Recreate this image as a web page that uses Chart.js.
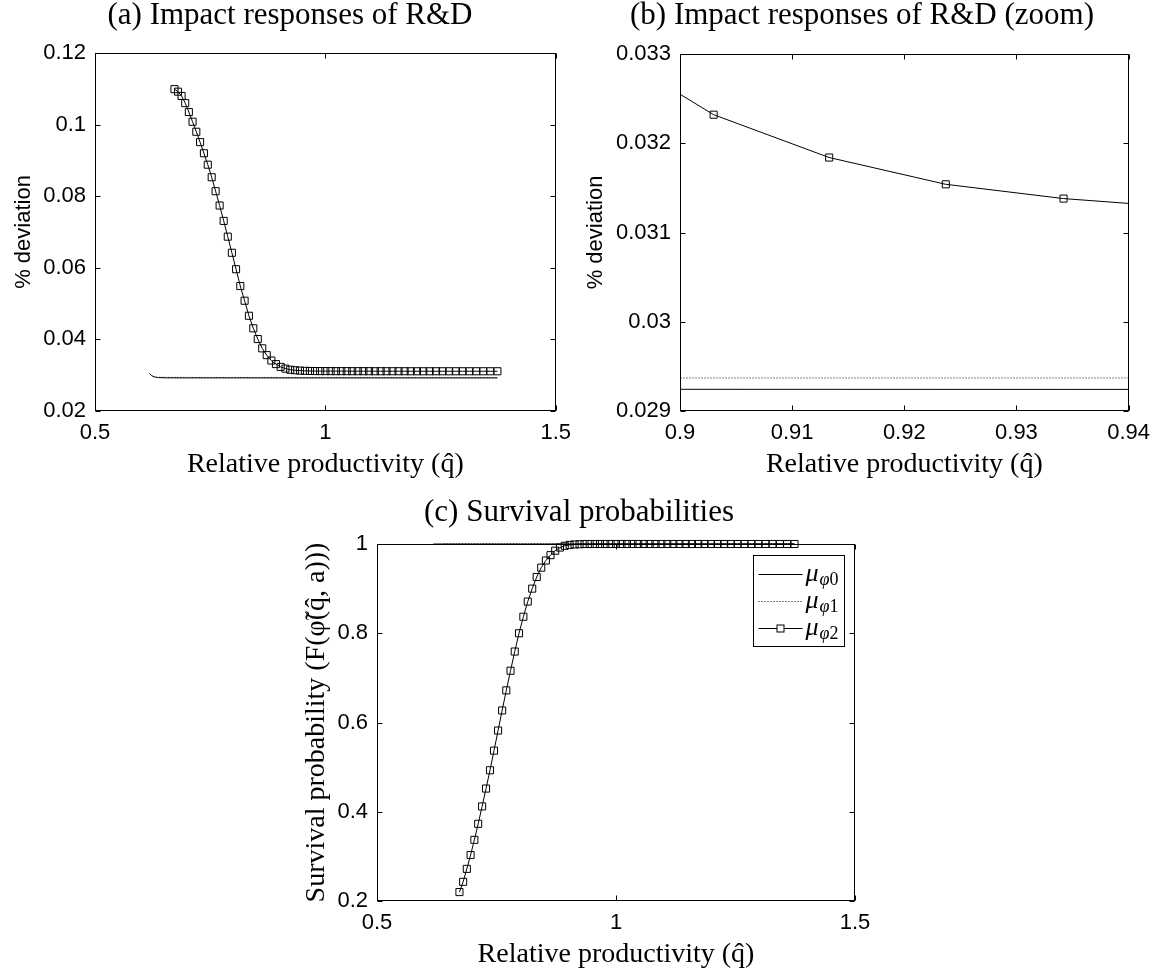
<!DOCTYPE html>
<html>
<head>
<meta charset="utf-8">
<script src="https://cdn.jsdelivr.net/npm/chart.js@4.4.1/dist/chart.umd.min.js"></script>
<style>
  body { margin: 0; background: #fff; }
  #wrap { position: relative; width: 1159px; height: 969px; overflow: hidden; }
  canvas { position: absolute; }
</style>
</head>
<body>
<div id="wrap">
  <canvas id="panelA" width="580" height="485" style="left:0;top:0"></canvas>
  <canvas id="panelB" width="579" height="485" style="left:580px;top:0"></canvas>
  <canvas id="panelC" width="659" height="489" style="left:250px;top:480px"></canvas>
</div>
<script>
// relative productivity grid for the marker series (mu_phi2)
const qGrid = [0.6725, 0.6802, 0.6879, 0.6958, 0.7037, 0.7117, 0.7199, 0.7281, 0.7364, 0.7448,
  0.7533, 0.7618, 0.7705, 0.7793, 0.7882, 0.7971, 0.8062, 0.8154, 0.8247, 0.8341,
  0.8436, 0.8533, 0.8630, 0.8728, 0.8828, 0.8928, 0.9030, 0.9133, 0.9237, 0.9342,
  0.9449, 0.9557, 0.9665, 0.9775, 0.9887, 1.0000, 1.0114, 1.0229, 1.0346, 1.0464,
  1.0583, 1.0704, 1.0826, 1.0949, 1.1074, 1.1200, 1.1328, 1.1457, 1.1588, 1.1720,
  1.1853, 1.1988, 1.2125, 1.2263, 1.2403, 1.2544, 1.2687, 1.2832, 1.2978, 1.3126,
  1.3276, 1.3427, 1.3580, 1.3735];

// R&D impact response, mu_phi2 (% deviation)
const rdPhi2 = [0.1099, 0.1092, 0.1080, 0.1060, 0.1035, 0.1008, 0.0980, 0.0951, 0.0920, 0.0888,
  0.0853, 0.0814, 0.0774, 0.0731, 0.0687, 0.0642, 0.0596, 0.0549, 0.0508, 0.0466,
  0.0431, 0.0401, 0.0375, 0.0356, 0.0341, 0.0331, 0.03232, 0.03184, 0.03154, 0.03138,
  0.03128, 0.03122, 0.03118, 0.03116, 0.03115, 0.03114, 0.03114, 0.03113, 0.03113, 0.03113,
  0.03112, 0.03112, 0.03112, 0.03112, 0.03111, 0.03111, 0.03111, 0.03111, 0.03111, 0.03111,
  0.03110, 0.03110, 0.03110, 0.03110, 0.03110, 0.03110, 0.03110, 0.03110, 0.03110, 0.03110,
  0.03110, 0.03110, 0.03110, 0.03110];

// survival probability, mu_phi2
const survPhi2 = [0.220, 0.243, 0.272, 0.303, 0.337, 0.373, 0.412, 0.452, 0.493, 0.537,
  0.582, 0.627, 0.672, 0.716, 0.759, 0.800, 0.837, 0.871, 0.900, 0.926,
  0.947, 0.963, 0.975, 0.985, 0.992, 0.996, 0.998, 0.999, 0.9995, 1.000,
  1.000, 1.000, 1.000, 1.000, 1.000, 1.000, 1.000, 1.000, 1.000, 1.000,
  1.000, 1.000, 1.000, 1.000, 1.000, 1.000, 1.000, 1.000, 1.000, 1.000,
  1.000, 1.000, 1.000, 1.000, 1.000, 1.000, 1.000, 1.000, 1.000, 1.000,
  1.000, 1.000, 1.000, 1.000];

// mu_phi0 (solid) and mu_phi1 (dotted) curves, sparser grids
const qPhi0 = [0.618, 0.623, 0.628, 0.638, 0.655, 0.700, 0.800, 0.900, 1.000, 1.100, 1.200, 1.300, 1.3735];
const rdPhi0 = [0.0305, 0.0299, 0.02955, 0.02933, 0.02926, 0.02925, 0.02925, 0.029243, 0.02924, 0.02924, 0.02924, 0.02924, 0.02924];
const survPhi0 = [1, 1, 1, 1, 1, 1, 1, 1, 1, 1, 1, 1, 1];
const qPhi1 = [0.640, 0.700, 0.800, 0.900, 1.000, 1.100, 1.200, 1.300, 1.3735];
const rdPhi1 = [0.02942, 0.02938, 0.02937, 0.02937, 0.02937, 0.02937, 0.02937, 0.02937, 0.02937];
const survPhi1 = [1, 1, 1, 1, 1, 1, 1, 1, 1];

// ticks
const wideXTicks = [0.5, 1, 1.5];
const wideXLabels = ['0.5', '1', '1.5'];
const zoomXTicks = [0.9, 0.91, 0.92, 0.93, 0.94];
const zoomXLabels = ['0.9', '0.91', '0.92', '0.93', '0.94'];
const rdYTicks = [0.02, 0.04, 0.06, 0.08, 0.1, 0.12];
const rdYLabels = ['0.02', '0.04', '0.06', '0.08', '0.1', '0.12'];
const zoomYTicks = [0.029, 0.03, 0.031, 0.032, 0.033];
const zoomYLabels = ['0.029', '0.03', '0.031', '0.032', '0.033'];
const survYTicks = [0.2, 0.4, 0.6, 0.8, 1];
const survYLabels = ['0.2', '0.4', '0.6', '0.8', '1'];

const seriesSubs = ['\u03c60', '\u03c61', '\u03c62'];

const SANS = '"Liberation Sans", Arial, sans-serif';
const SERIF = '"Liberation Serif", "Times New Roman", serif';

const pts = (xs, ys) => xs.map((x, i) => ({ x, y: ys[i] }));

// box round the axes with inward ticks on all four sides, plus subfigure caption
const matlabAxes = {
  id: 'matlabAxes',
  afterDatasetsDraw(chart, args, opts) {
    const { ctx, chartArea: a, scales: { x, y } } = chart;
    const L = Math.round(a.left) + 0.5, R = Math.round(a.right) - 0.5;
    const T = Math.round(a.top) + 0.5, B = Math.round(a.bottom) - 0.5;
    ctx.save();
    ctx.strokeStyle = '#000';
    ctx.lineWidth = 1;
    ctx.setLineDash([]);
    ctx.strokeRect(L, T, R - L, B - T);
    ctx.beginPath();
    x.ticks.forEach((t) => {
      const px = Math.round(x.getPixelForValue(t.value)) + 0.5;
      ctx.moveTo(px, B); ctx.lineTo(px, B - opts.tick);
      ctx.moveTo(px, T); ctx.lineTo(px, T + opts.tick);
    });
    y.ticks.forEach((t) => {
      const py = Math.round(y.getPixelForValue(t.value)) + 0.5;
      ctx.moveTo(L, py); ctx.lineTo(L + opts.tick, py);
      ctx.moveTo(R, py); ctx.lineTo(R - opts.tick, py);
    });
    ctx.stroke();
    if (opts.title) {
      ctx.fillStyle = '#000';
      ctx.font = '31px ' + SERIF;
      ctx.textAlign = 'center';
      ctx.textBaseline = 'middle';
      ctx.fillText(opts.title, opts.titleX, opts.titleY);
    }
    ctx.restore();
  }
};

// framed legend in the top-right corner of the axes
const boxLegend = {
  id: 'boxLegend',
  afterDraw(chart, args, opts) {
    if (!opts.show) return;
    const { ctx, chartArea: a } = chart;
    const x0 = Math.round(a.right - opts.right - opts.width) + 0.5;
    const y0 = Math.round(a.top + opts.top) + 0.5;
    const h = opts.pad * 2 + opts.rowH * chart.data.datasets.length;
    ctx.save();
    ctx.fillStyle = '#fff';
    ctx.fillRect(x0, y0, opts.width, h);
    ctx.strokeStyle = '#000';
    ctx.lineWidth = 1;
    ctx.strokeRect(x0, y0, opts.width, h);
    chart.data.datasets.forEach((ds, i) => {
      const cy = Math.round(y0 + opts.pad + opts.rowH * (i + 0.5)) + 0.5;
      ctx.setLineDash(ds.borderDash || []);
      ctx.beginPath();
      ctx.moveTo(x0 + 5, cy); ctx.lineTo(x0 + 49, cy);
      ctx.stroke();
      ctx.setLineDash([]);
      if (ds.pointRadius > 0) {
        const s = 3.5, mx = x0 + 27;
        ctx.fillStyle = '#fff';
        ctx.fillRect(mx - s, cy - s, 2 * s, 2 * s);
        ctx.strokeRect(mx - s, cy - s, 2 * s, 2 * s);
      }
      ctx.fillStyle = '#000';
      ctx.textAlign = 'left';
      ctx.textBaseline = 'alphabetic';
      ctx.font = 'italic 26px ' + SERIF;
      const tx = x0 + 52;
      ctx.fillText('\u03bc', tx, cy + 6);
      const w = ctx.measureText('\u03bc').width;
      ctx.font = 'italic 18px ' + SERIF;
      const sub = seriesSubs[i];
      ctx.fillText(sub[0], tx + w + 1, cy + 10);
      const w2 = ctx.measureText(sub[0]).width;
      ctx.font = '18px ' + SERIF;
      ctx.fillText(sub.slice(1), tx + w + 1 + w2, cy + 10);
    });
    ctx.restore();
  }
};

function axisX(min, max, ticks, labels, height, titlePadBottom) {
  return {
    type: 'linear', min, max,
    grid: { display: false, drawTicks: false },
    border: { display: false },
    afterBuildTicks: (axis) => { axis.ticks = ticks.map((v) => ({ value: v })); },
    afterFit: (axis) => { axis.height = height; },
    ticks: { color: '#000', padding: 9, maxRotation: 0, autoSkip: false,
      font: { family: SANS, size: 22 }, callback: (v, i) => labels[i] },
    title: { display: true, text: 'Relative productivity (q\u0302)', color: '#000',
      font: { family: SERIF, size: 28, lineHeight: 1 }, padding: { top: 0, bottom: titlePadBottom } }
  };
}

function axisY(min, max, ticks, labels, width, title, titleFont, titlePadTop) {
  return {
    type: 'linear', min, max,
    grid: { display: false, drawTicks: false },
    border: { display: false },
    afterBuildTicks: (axis) => { axis.ticks = ticks.map((v) => ({ value: v })); },
    afterFit: (axis) => { axis.width = width; },
    ticks: { color: '#000', padding: 9, autoSkip: false,
      font: { family: SANS, size: 22 }, callback: (v, i) => labels[i] },
    title: { display: true, text: title, color: '#000', font: titleFont,
      padding: { top: titlePadTop, bottom: 0 } }
  };
}

function datasets(rd, clip) {
  const m = rd ? rdPhi2 : survPhi2;
  const s0 = rd ? rdPhi0 : survPhi0;
  const s1 = rd ? rdPhi1 : survPhi1;
  return [
    { label: 'mu_phi0', data: pts(qPhi0, s0), borderColor: '#000', borderWidth: 1,
      pointRadius: 0, fill: false, clip },
    { label: 'mu_phi1', data: pts(qPhi1, s1), borderColor: '#000', borderWidth: 1,
      borderDash: [1, 2], pointRadius: 0, fill: false, clip },
    { label: 'mu_phi2', data: pts(qGrid, m), borderColor: '#000', borderWidth: 1,
      pointStyle: 'rect', pointRadius: 5, pointBorderWidth: 1, pointBorderColor: '#000',
      pointBackgroundColor: 'rgba(0,0,0,0)', fill: false, clip }
  ];
}

function panel(id, cfg) {
  return new Chart(document.getElementById(id), {
    type: 'line',
    data: { datasets: cfg.datasets },
    options: {
      responsive: false,
      animation: false,
      devicePixelRatio: 1,
      layout: { padding: cfg.padding },
      plugins: {
        legend: { display: false },
        tooltip: { enabled: false },
        matlabAxes: { tick: 5, title: cfg.title, titleX: cfg.titleX, titleY: cfg.titleY },
        boxLegend: cfg.legend || { show: false }
      },
      scales: { x: cfg.x, y: cfg.y }
    },
    plugins: [matlabAxes, boxLegend]
  });
}

const devFont = { family: SANS, size: 22 };

panel('panelA', {
  title: '(a) Impact responses of R&D', titleX: 290, titleY: 16,
  padding: { top: 53, right: 19, left: 0, bottom: 0 },
  datasets: datasets(true, false),
  x: axisX(0.5, 1.5, wideXTicks, wideXLabels, 74, 6),
  y: axisY(0.02, 0.12, rdYTicks, rdYLabels, 95, '% deviation', devFont, 11)
});

panel('panelB', {
  title: '(b) Impact responses of R&D (zoom)', titleX: 282, titleY: 16,
  padding: { top: 54, right: 28, left: 0, bottom: 0 },
  datasets: datasets(true, true),
  x: axisX(0.9, 0.94, zoomXTicks, zoomXLabels, 74, 6),
  y: axisY(0.029, 0.033, zoomYTicks, zoomYLabels, 100, '% deviation', devFont, 3)
});

panel('panelC', {
  title: '(c) Survival probabilities', titleX: 329, titleY: 33,
  padding: { top: 64, right: 54, left: 0, bottom: 0 },
  datasets: datasets(false, false),
  x: axisX(0.5, 1.5, wideXTicks, wideXLabels, 68, 0),
  y: axisY(0.2, 1, survYTicks, survYLabels, 127,
    'Survival probability (F(\u03c6\u0303(q\u0302, a)))', { family: SERIF, size: 28 }, 50),
  legend: { show: true, right: 11, top: 11, width: 91, rowH: 27, pad: 5 }
});
</script>
</body>
</html>
